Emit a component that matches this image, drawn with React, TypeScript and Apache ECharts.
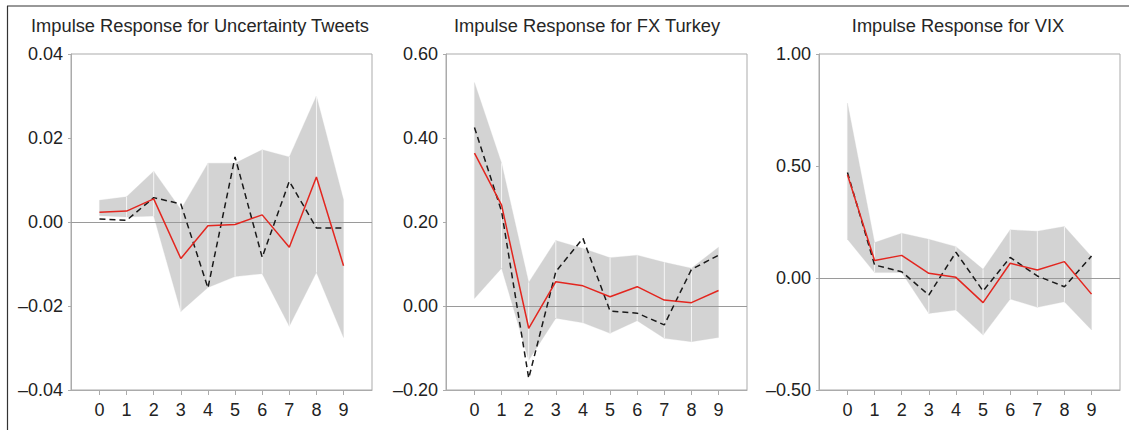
import React, { useEffect, useRef } from "react";
import * as echarts from "echarts";

// ---- data ----
const lags = [0, 1, 2, 3, 4, 5, 6, 7, 8, 9];

const titles = [
  "Impulse Response for Uncertainty Tweets",
  "Impulse Response for FX Turkey",
  "Impulse Response for VIX",
];

const tweetsResp = [0.0023, 0.0026, 0.0055, -0.0087, -0.0009, -0.0006, 0.0017, -0.006, 0.0107, -0.0104];
const tweetsAlt = [0.0007, 0.0004, 0.0058, 0.0043, -0.0157, 0.0155, -0.0084, 0.0097, -0.0014, -0.0014];
const tweetsUpper = [0.0052, 0.006, 0.0121, 0.003, 0.014, 0.014, 0.0172, 0.0155, 0.03, 0.0053];
const tweetsLower = [0.0015, 0.0012, 0.0014, -0.0213, -0.0156, -0.013, -0.0123, -0.0248, -0.012, -0.0275];

const fxResp = [0.364, 0.24, -0.053, 0.058, 0.048, 0.022, 0.046, 0.014, 0.008, 0.037];
const fxAlt = [0.425, 0.225, -0.172, 0.082, 0.161, -0.012, -0.017, -0.045, 0.087, 0.121];
const fxUpper = [0.532, 0.34, 0.056, 0.156, 0.137, 0.115, 0.121, 0.104, 0.09, 0.14];
const fxLower = [0.018, 0.09, -0.129, -0.029, -0.04, -0.065, -0.035, -0.077, -0.085, -0.075];

const vixResp = [0.461, 0.078, 0.101, 0.021, 0.003, -0.11, 0.066, 0.036, 0.073, -0.072];
const vixAlt = [0.471, 0.058, 0.028, -0.076, 0.115, -0.058, 0.092, 0.009, -0.039, 0.098];
const vixUpper = [0.781, 0.158, 0.2, 0.173, 0.14, 0.039, 0.215, 0.209, 0.23, 0.095];
const vixLower = [0.173, 0.024, 0.024, -0.158, -0.143, -0.255, -0.094, -0.131, -0.106, -0.232];

const yMins = [-0.04, -0.2, -0.5];
const yMaxs = [0.04, 0.6, 1.0];
const yIntervals = [0.02, 0.2, 0.5];

const respSets = [tweetsResp, fxResp, vixResp];
const altSets = [tweetsAlt, fxAlt, vixAlt];
const upperSets = [tweetsUpper, fxUpper, vixUpper];
const lowerSets = [tweetsLower, fxLower, vixLower];

// ---- layout ----
const gridLefts = [71, 446, 819];
const gridWidth = 301;
const gridTop = 54;
const gridHeight = 336;
const titleCenters = [200, 587, 958];

const FONT = "'Liberation Sans', Arial, Helvetica, sans-serif";
const AXIS_GRAY = "#ababab";

function fmt(v: number) {
  const s = Math.abs(v).toFixed(2);
  return v < -1e-9 ? "\u2013" + s : s;
}

export default function App() {
  const ref = useRef<HTMLDivElement>(null);

  useEffect(() => {
    if (!ref.current) return;
    const chart = echarts.init(ref.current, undefined, { renderer: "svg" });

    const grid: any[] = [];
    const xAxis: any[] = [];
    const yAxis: any[] = [];
    const series: any[] = [];
    const title: any[] = [];

    for (let p = 0; p < 3; p++) {
      grid.push({
        left: gridLefts[p],
        top: gridTop,
        width: gridWidth,
        height: gridHeight,
        show: true,
        borderColor: AXIS_GRAY,
        borderWidth: 1,
        backgroundColor: "transparent",
        containLabel: false,
      });
      xAxis.push({
        type: "value",
        gridIndex: p,
        min: -1.05,
        max: 10.05,
        axisLine: { show: true, onZero: false, lineStyle: { color: AXIS_GRAY, width: 1 } },
        axisTick: {
          show: true,
          length: 5,
          customValues: lags,
          lineStyle: { color: AXIS_GRAY, width: 1 },
        },
        axisLabel: {
          show: true,
          customValues: lags,
          margin: 11,
          color: "#222",
          fontSize: 18,
          fontFamily: FONT,
          formatter: (v: number) => String(v),
        },
        splitLine: { show: false },
      });
      yAxis.push({
        type: "value",
        gridIndex: p,
        min: yMins[p],
        max: yMaxs[p],
        interval: yIntervals[p],
        axisLine: { show: true, onZero: false, lineStyle: { color: AXIS_GRAY, width: 1 } },
        axisTick: { show: true, length: 3, lineStyle: { color: AXIS_GRAY, width: 1 } },
        axisLabel: {
          show: true,
          margin: 8,
          color: "#222",
          fontSize: 18,
          fontFamily: FONT,
          formatter: (v: number) => fmt(v),
        },
        splitLine: { show: false },
      });
      title.push({
        text: titles[p],
        left: titleCenters[p],
        top: 16,
        textAlign: "center",
        padding: 0,
        textStyle: {
          fontFamily: FONT,
          fontSize: 18.3,
          fontWeight: "normal",
          color: "#262626",
        },
      });

      const up = upperSets[p];
      const lo = lowerSets[p];
      const bandData = lags.slice(0, lags.length - 1).map((x, i) => [x, lo[i], up[i], lo[i + 1], up[i + 1]]);

      series.push({
        type: "custom",
        xAxisIndex: p,
        yAxisIndex: p,
        z: 1,
        silent: true,
        clip: true,
        encode: { x: 0, y: [1, 2, 3, 4] },
        data: bandData,
        renderItem: (params: any, api: any) => {
          const i = api.value(0);
          const a = api.coord([i, api.value(2)]);
          const b = api.coord([i + 1, api.value(4)]);
          const c = api.coord([i + 1, api.value(3)]);
          const d = api.coord([i, api.value(1)]);
          const children: any[] = [
            {
              type: "polygon",
              shape: { points: [a, b, c, d] },
              style: { fill: "#d3d3d3", stroke: "#d3d3d3", lineWidth: 0.3 },
            },
          ];
          if (i > 0) {
            children.push({
              type: "line",
              shape: { x1: d[0], y1: d[1], x2: a[0], y2: a[1] },
              style: { stroke: "rgba(255,255,255,0.75)", lineWidth: 1 },
            });
          }
          return { type: "group", children };
        },
      });

      series.push({
        type: "line",
        xAxisIndex: p,
        yAxisIndex: p,
        z: 3,
        symbol: "none",
        showSymbol: false,
        silent: true,
        data: lags.map((x, i) => [x, altSets[p][i]]),
        lineStyle: { color: "#1a1a1a", width: 1.5, type: [6, 4] },
      });

      series.push({
        type: "line",
        xAxisIndex: p,
        yAxisIndex: p,
        z: 4,
        symbol: "none",
        showSymbol: false,
        silent: true,
        data: lags.map((x, i) => [x, respSets[p][i]]),
        lineStyle: { color: "#e3261f", width: 1.5, type: "solid" },
        markLine: {
          silent: true,
          symbol: ["none", "none"],
          label: { show: false },
          lineStyle: { color: "#9a9a9a", width: 1, type: "solid" },
          data: [{ yAxis: 0 }],
          z: 2,
        },
      });
    }

    chart.setOption({
      animation: false,
      backgroundColor: "#ffffff",
      title,
      grid,
      xAxis,
      yAxis,
      series,
      graphic: [
        {
          type: "line",
          shape: { x1: 7.5, y1: 6, x2: 7.5, y2: 430 },
          style: { stroke: "#333", lineWidth: 1.2 },
          silent: true,
        },
        {
          type: "line",
          shape: { x1: 7, y1: 6, x2: 1129, y2: 6 },
          style: { stroke: "#333", lineWidth: 1.2 },
          silent: true,
        },
      ],
    });

    return () => chart.dispose();
  }, []);

  return (
    <div
      ref={ref}
      style={{ position: "fixed", left: 0, top: 0, width: 1129, height: 430 }}
    />
  );
}
